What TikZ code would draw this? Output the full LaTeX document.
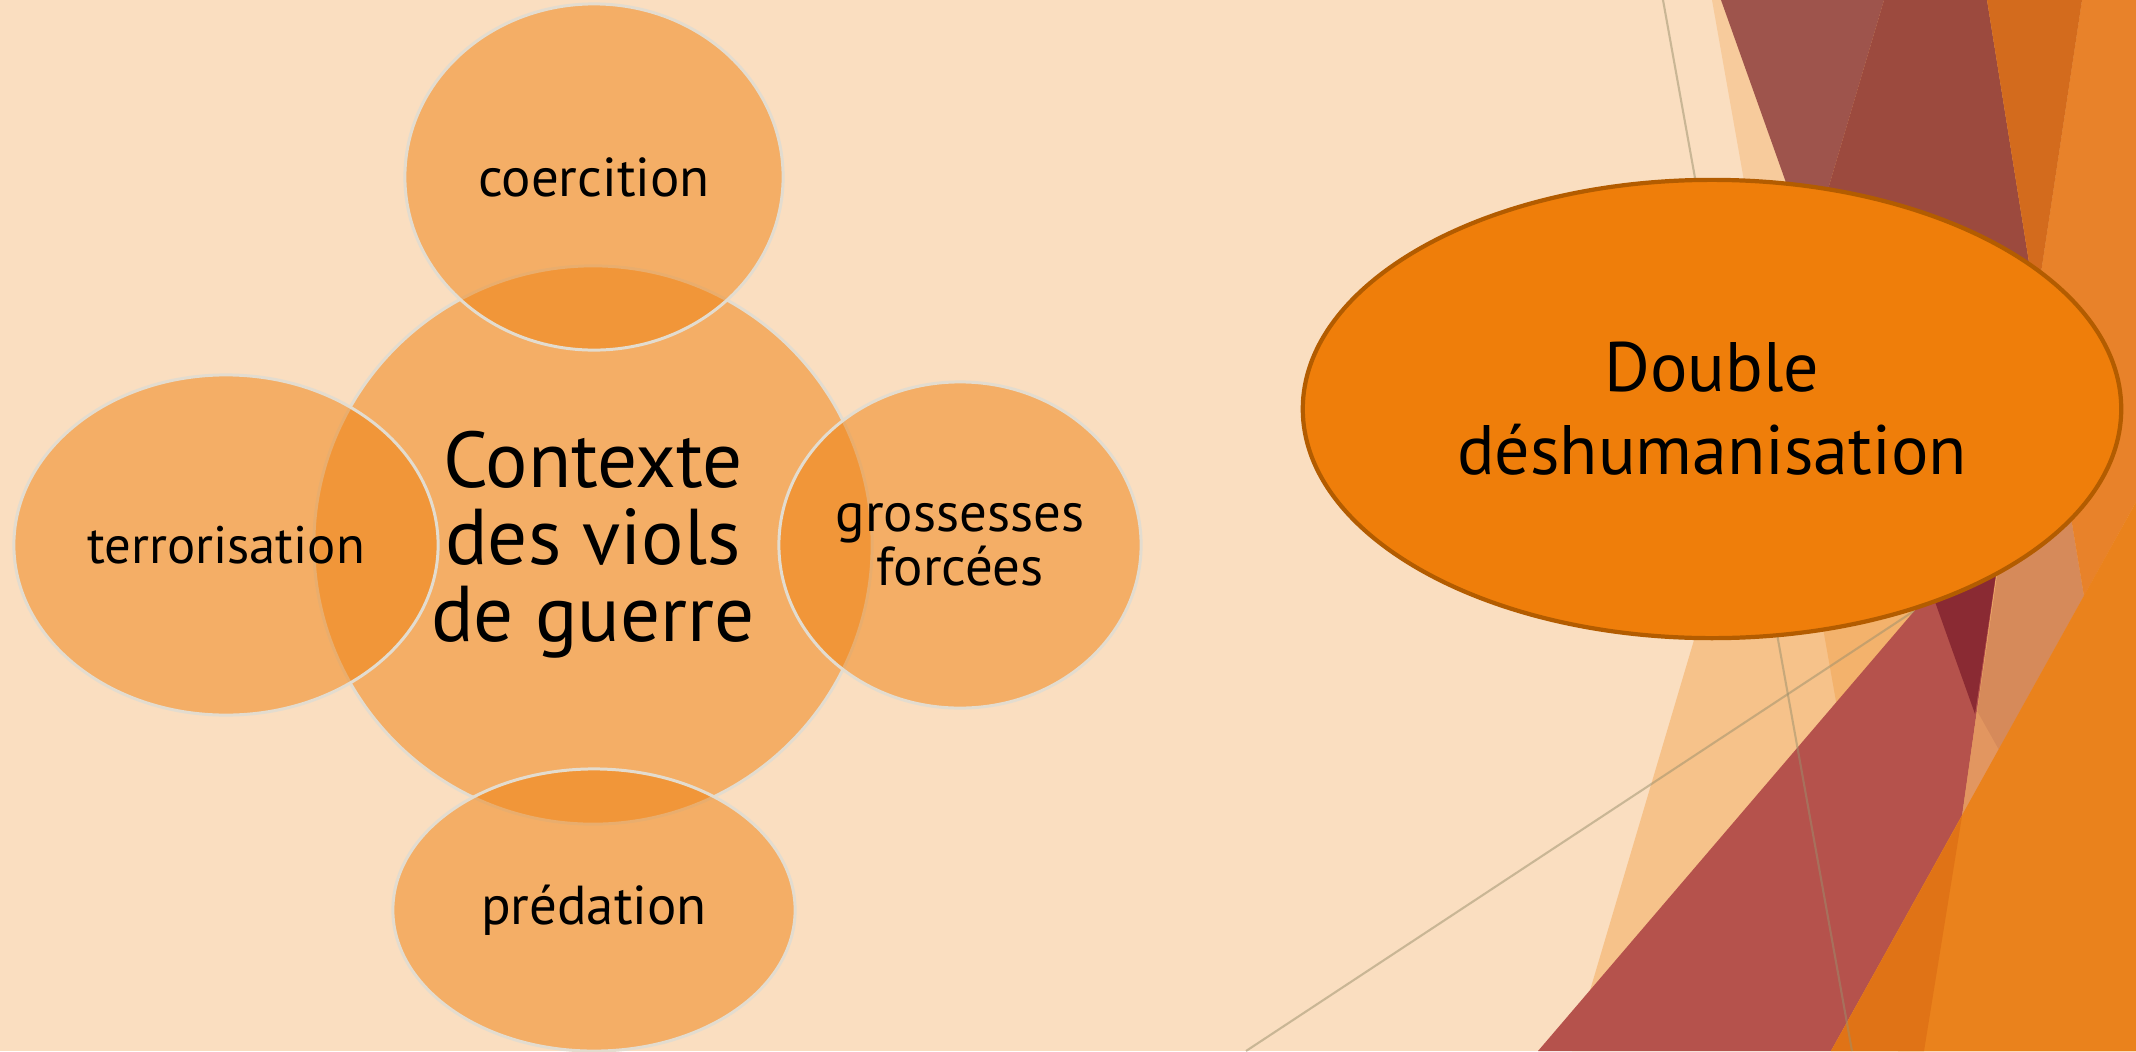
\documentclass[tikz,border=0pt]{standalone}
\usepackage{fontspec}
\setmainfont{PT Sans}
\usepackage{tikz}
\usetikzlibrary{shapes.geometric}
\definecolor{paper}{HTML}{FADEC0}
\definecolor{tone}{HTML}{F0800D}
\definecolor{rim}{HTML}{E3DCCF}
\definecolor{deep}{HTML}{EF7E0A}
\definecolor{deeprim}{HTML}{B35C00}
\definecolor{peachA}{HTML}{F7CB9C}
\definecolor{peachB}{HTML}{F6C28A}
\definecolor{peachC}{HTML}{F3B26C}
\definecolor{salmon}{HTML}{D68A5A}
\definecolor{salmonlt}{HTML}{E29660}
\definecolor{mauve}{HTML}{9E544C}
\definecolor{brown}{HTML}{9C4A3E}
\definecolor{rust}{HTML}{D36B1D}
\definecolor{flame}{HTML}{E8822A}
\definecolor{brick}{HTML}{B5524C}
\definecolor{wine}{HTML}{8A2A33}
\definecolor{amber}{HTML}{EA821C}
\definecolor{amberdk}{HTML}{E07316}
\definecolor{streak}{HTML}{9A8F6C}
\tikzset{
  sat/.style={ellipse, draw=rim, line width=0.85pt, fill=tone, fill opacity=0.5,
    text opacity=1, inner sep=0pt, align=center,
    font=\fontsize{15.6}{15.4}\selectfont},
  hub/.style={sat, font=\fontsize{22.5}{21.9}\selectfont},
  big/.style={ellipse, draw=deeprim, line width=1.2pt, fill=deep, inner sep=0pt,
    align=center, font=\fontsize{19.9}{23.6}\selectfont},
  streakline/.style={draw=streak, line width=0.6pt, draw opacity=0.5},
}
\begin{document}
\begin{tikzpicture}[x=0.01cm,y=-0.01cm]
  \useasboundingbox (0,0) rectangle (2136,1051);
  \fill[paper] (0,0) rectangle (2136,1051);

  % facets on the right
  \begin{scope}
    \clip (0,0) rectangle (2136,1051);
    \fill[peachA] (1712,0) -- (1898,1051) -- (2136,1051) -- (2136,0) -- cycle;
    \fill[peachB] (1884,0) -- (1572,1051) -- (2136,1051) -- (2136,0) -- cycle;
    \fill[peachC] (1884,0) -- (1776,363) -- (1898,1051) -- (2136,1051) -- (2136,0) -- cycle;
    \fill[salmon] (2036,306) -- (1962,816) -- (2084,596) -- cycle;
    \fill[flame] (2082,0) -- (2036,306) -- (2084,596) -- (2136,502) -- (2136,0) -- cycle;
    \fill[mauve] (1721,0) -- (1884,0) -- (1810,250) -- cycle;
    \fill[brown] (1884,0) -- (1987,0) -- (2036,306) -- (1975,714) -- (1810,250) -- cycle;
    \fill[rust] (1987,0) -- (2082,0) -- (2036,306) -- cycle;
    \fill[brick] (1975,540) -- (1538,1051) -- (1831,1051) -- (1962,816) -- (2001,540) -- cycle;
    \fill[wine] (1913,540) -- (2001,540) -- (1975,714) -- cycle;
    \fill[salmonlt] (1977,711) -- (2004,759) -- (1962,816) -- cycle;
    \fill[amber] (2136,502) -- (1831,1051) -- (2136,1051) -- cycle;
    \fill[amberdk] (1962,816) -- (1831,1051) -- (1924,1051) -- cycle;
  \end{scope}
  \coordinate (s1a) at (1663,0);
  \coordinate (s1b) at (1852,1051);
  \coordinate (s2a) at (1246,1051);
  \coordinate (s2b) at (1914,611);
  \draw[streakline] (s1a) -- (s1b);
  \draw[streakline] (s2a) -- (s2b);

  \node[hub, minimum width=5.58cm, minimum height=5.58cm] (ctx) at (593,545) {Contexte\\des viols\\de guerre};
  \node[sat, minimum width=3.78cm, minimum height=3.46cm] (coer) at (594,177) {coercition};
  \node[sat, minimum width=4.24cm, minimum height=3.40cm, font=\fontsize{15}{15}\selectfont] (terr) at (226,545) {terrorisation};
  \node[sat, minimum width=3.62cm, minimum height=3.26cm] (gros) at (960,545) {grossesses\\forcées};
  \node[sat, minimum width=4.02cm, minimum height=2.82cm] (pred) at (594,910) {prédation};

  \node[big, minimum width=8.18cm, minimum height=4.58cm] (dbl) at (1712,409) {Double\\déshumanisation};
\end{tikzpicture}
\end{document}
